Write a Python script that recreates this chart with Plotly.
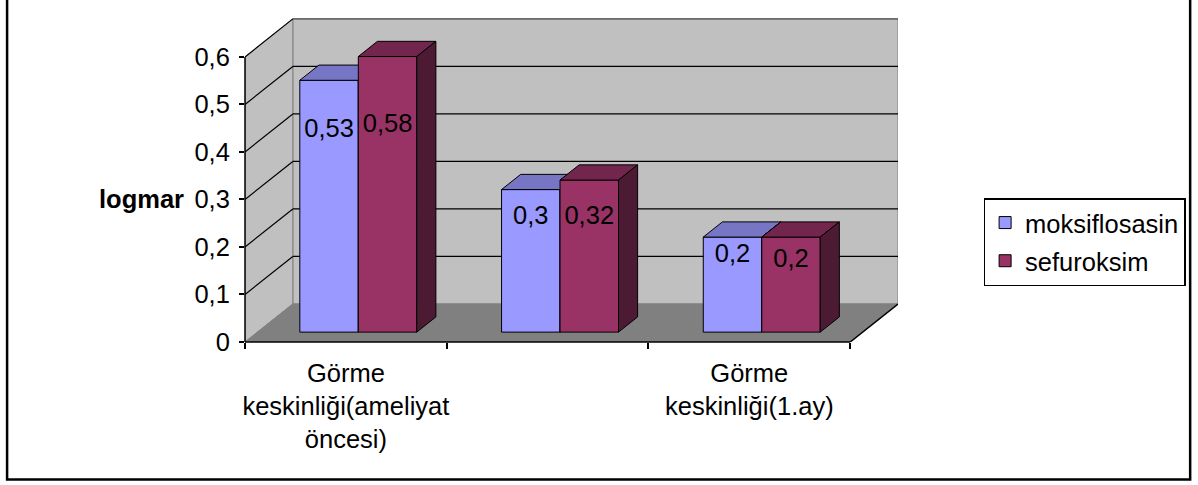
import plotly.graph_objects as go

# ---- data -------------------------------------------------------------
tick_labels = ["Görme<br>keskinliği(ameliyat<br>öncesi)", "", "Görme<br>keskinliği(1.ay)"]
moksiflosasin = [0.53, 0.30, 0.20]
sefuroksim = [0.58, 0.32, 0.20]
y_ticks = [0, 0.1, 0.2, 0.3, 0.4, 0.5, 0.6]

# ---- 3-D look parameters (category units / value units) ---------------
DX, DY = 0.237, 0.08          # full depth of the floor
F0, F1 = 0.26, 0.66           # front / back of the bar row, as fraction of depth
GAP = 1.45                    # gap width relative to one bar
BW = 1.0 / (2 + GAP)          # bar width
YMAX = y_ticks[-1]
FONT = "Liberation Sans, Arial, sans-serif"
FS = 25.5

n = len(tick_labels)
xs, ys = F0 * DX, F0 * DY
bdx, bdy = (F1 - F0) * DX, (F1 - F0) * DY
x_range = [-0.5, n - 0.5 + DX]
y_range = [0, YMAX + DY + 0.004]

W, H = 1198, 485
ML, MR, MT, MB = 245, 297, 17, 143
PW, PH = W - ML - MR, H - MT - MB


def px_x(p):
    return (p - ML) / PW


def px_y(p):
    return (H - MB - p) / PH


def fmt(v):
    return ("%g" % v).replace(".", ",")


def faces(vals, off):
    tx, ty, sx, sy = [], [], [], []
    for i, v in enumerate(vals):
        xl = i + xs + off
        xr = xl + BW
        yt = v + ys
        tx += [xl, xr, xr + bdx, xl + bdx, xl, None]
        ty += [yt, yt, yt + bdy, yt + bdy, yt, None]
        sx += [xr, xr + bdx, xr + bdx, xr, xr, None]
        sy += [ys, ys + bdy, yt + bdy, yt, ys, None]
    return tx, ty, sx, sy


series = [
    dict(name="moksiflosasin", vals=moksiflosasin, front="#9999FF", top="#7676C4",
         side="#4D4D80", off=-BW, lab=0.8, xa="x", ya="y"),
    dict(name="sefuroksim", vals=sefuroksim, front="#993366", top="#73264D",
         side="#4D1A33", off=0.0, lab=0.75, xa="x2", ya="y2"),
]

fig = go.Figure()
for s in series:
    fig.add_trace(go.Bar(
        x=[i + xs for i in range(n)], y=s["vals"], base=ys, width=BW, offset=s["off"],
        marker=dict(color=s["front"], line=dict(color="black", width=1)),
        name=s["name"], legendgroup=s["name"], xaxis=s["xa"], yaxis=s["ya"],
        hoverinfo="skip"))
    tx, ty, sx, sy = faces(s["vals"], s["off"])
    fig.add_trace(go.Scatter(x=tx, y=ty, mode="lines", fill="toself", fillcolor=s["top"],
                             line=dict(color="black", width=1), showlegend=False,
                             xaxis=s["xa"], yaxis=s["ya"], hoverinfo="skip"))
    fig.add_trace(go.Scatter(x=sx, y=sy, mode="lines", fill="toself", fillcolor=s["side"],
                             line=dict(color="black", width=1), showlegend=False,
                             xaxis=s["xa"], yaxis=s["ya"], hoverinfo="skip"))

# value labels, on the top layer
for s in series:
    fig.add_trace(go.Scatter(
        x=[i + xs + s["off"] + BW / 2 for i in range(n)],
        y=[v * s["lab"] + ys for v in s["vals"]],
        text=[fmt(v) for v in s["vals"]], mode="text",
        textfont=dict(family=FONT, size=FS, color="black"),
        showlegend=False, xaxis="x2", yaxis="y2", hoverinfo="skip"))

shapes = []
GRAY = "#808080"
# back wall
shapes.append(dict(type="rect", xref="x", yref="y", layer="below",
                   x0=-0.5 + DX, x1=n - 0.5 + DX, y0=DY, y1=YMAX + DY,
                   fillcolor="#C0C0C0", line=dict(color=GRAY, width=1)))
# left wall
shapes.append(dict(type="path", xref="x", yref="y", layer="below",
                   path=f"M{-0.5},0 L{-0.5 + DX},{DY} L{-0.5 + DX},{YMAX + DY} L{-0.5},{YMAX} Z",
                   fillcolor="#C0C0C0", line=dict(color=GRAY, width=1)))
# floor
shapes.append(dict(type="path", xref="x", yref="y", layer="below",
                   path=f"M{-0.5},0 L{n - 0.5},0 L{n - 0.5 + DX},{DY} L{-0.5 + DX},{DY} Z",
                   fillcolor=GRAY, line=dict(color=GRAY, width=1)))
# floor right edge
shapes.append(dict(type="line", xref="x", yref="y", layer="below",
                   x0=n - 0.5, y0=0, x1=n - 0.5 + DX, y1=DY,
                   line=dict(color="black", width=1.5)))
# gridlines on the back and left walls
for v in y_ticks[1:]:
    col = "black" if v < YMAX else "#555555"
    shapes.append(dict(type="line", xref="x", yref="y", layer="below",
                       x0=-0.5 + DX, x1=n - 0.5 + DX, y0=v + DY, y1=v + DY,
                       line=dict(color=col, width=1.2)))
    shapes.append(dict(type="line", xref="x", yref="y", layer="below",
                       x0=-0.5, x1=-0.5 + DX, y0=v, y1=v + DY,
                       line=dict(color="black", width=1.2)))
# value axis line and category axis line
shapes.append(dict(type="line", xref="paper", yref="y", layer="above",
                   x0=0, x1=0, y0=0, y1=YMAX, line=dict(color="black", width=1.5)))
shapes.append(dict(type="line", xref="x", yref="paper", layer="above",
                   x0=-0.5, x1=n - 0.5, y0=0, y1=0, line=dict(color="black", width=1.5)))
# outer chart frame
shapes.append(dict(type="rect", xref="paper", yref="paper", layer="below",
                   x0=px_x(6), x1=px_x(1194.5), y0=px_y(479.5), y1=px_y(-5),
                   line=dict(color="black", width=2.5), fillcolor="rgba(0,0,0,0)"))

fig.update_layout(
    width=W, height=H,
    margin=dict(l=ML, r=MR, t=MT, b=MB, pad=0),
    paper_bgcolor="white", plot_bgcolor="rgba(0,0,0,0)",
    separators=", ",
    barmode="overlay",
    font=dict(family=FONT, size=FS, color="black"),
    shapes=shapes,
    showlegend=True,
    legend=dict(x=px_x(987), y=px_y(198), xanchor="left", yanchor="top",
                bordercolor="black", borderwidth=1.5, bgcolor="white",
                font=dict(family=FONT, size=FS, color="black"),
                traceorder="grouped", tracegroupgap=2),
    xaxis=dict(range=x_range, tickvals=list(range(n)), ticktext=tick_labels,
               ticks="", showgrid=False, zeroline=False, showline=False,
               ticklabelstandoff=13,
               tickfont=dict(family=FONT, size=FS, color="black"),
               minor=dict(tickvals=[i - 0.5 for i in range(n + 1)], ticks="outside",
                          ticklen=6, tickwidth=1.5, tickcolor="black", showgrid=False)),
    yaxis=dict(range=y_range, tickvals=y_ticks, ticks="outside", ticklen=5,
               tickwidth=1.5, tickcolor="black", showgrid=False, zeroline=False,
               showline=False, ticklabelstandoff=4,
               tickfont=dict(family=FONT, size=FS, color="black")),
    xaxis2=dict(range=x_range, overlaying="x", visible=False),
    yaxis2=dict(range=y_range, overlaying="y", visible=False),
    annotations=[dict(text="<b>logmar</b>", xref="paper", yref="y", x=px_x(186),
                      y=0.3, xanchor="right", yanchor="middle", showarrow=False,
                      font=dict(family=FONT, size=FS, color="black"))],
)

fig.write_html("out.html")
